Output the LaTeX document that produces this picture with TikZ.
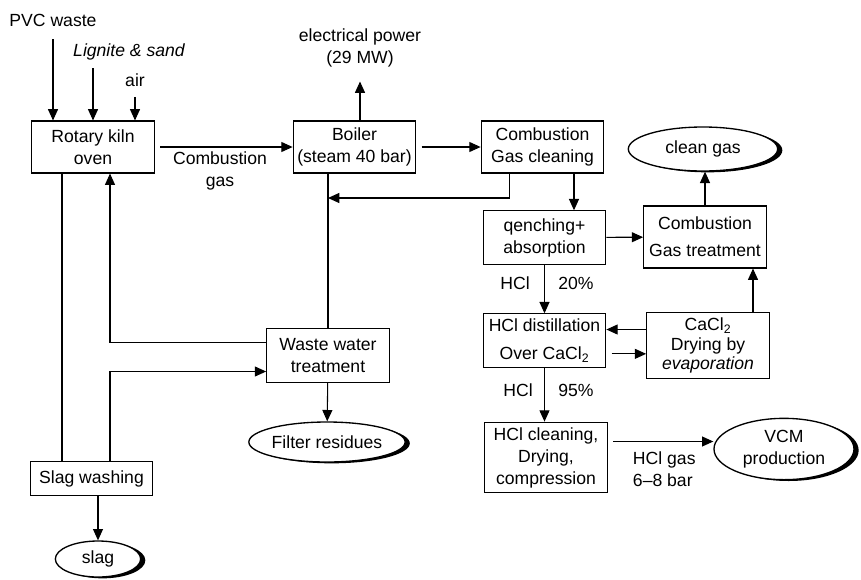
\documentclass[tikz,border=0pt]{standalone}
\usepackage{fontspec}
\setmainfont{Liberation Sans}
\usetikzlibrary{arrows.meta,shapes.geometric,shadows}

\begin{document}
\begin{tikzpicture}[x=0.75pt, y=-0.75pt, >={Triangle[length=8.5pt,width=7.5pt]}, line width=0.8pt,
  font=\fontsize{13.2}{16.5}\selectfont,
  box/.style={draw, align=center, minimum width=92pt, inner sep=1.5pt},
  blob/.style={ellipse, draw, fill=white, line width=1pt, inner sep=0pt, align=center,
    general shadow={fill=black, shadow xshift=3.5pt, shadow yshift=-1pt}}]
  \useasboundingbox (0,0) rectangle (861,579);
  % process boxes
  \node[box, minimum height=39pt] (kiln) at (93,147) {Rotary kiln\\oven};
  \node[box, minimum height=39pt] (boiler) at (354.5,147) {Boiler\\(steam 40 bar)};
  \node[box, minimum height=39pt] (gascl) at (542.5,147) {Combustion\\Gas cleaning};
  \node[box, minimum height=40pt] (quench) at (544.5,237.5) {qenching+\\absorption};
  \node[box, minimum height=46.5pt] (gastr) at (705,237) {Combustion\\[4pt]Gas treatment};
  \node[box, minimum height=40pt] (dist) at (544.5,340.5) {HCl distillation\\[4pt]Over CaCl\textsubscript{2}};
  \node[box, minimum height=49pt] (cacl) at (708,345.5) {CaCl\textsubscript{2}\\[-2pt]Drying by\\[-2pt]\textit{evaporation}};
  \node[box, minimum height=53pt] (hclcl) at (546,457.5) {HCl cleaning,\\Drying,\\compression};
  \node[box, minimum height=40pt] (waste) at (328,355.5) {Waste water\\treatment};
  \node[box, minimum height=26pt] (slagw) at (91.5,478.5) {Slag washing};
  % products
  \node[blob, minimum width=112pt, minimum height=33pt] (clean) at (703,149) {clean gas};
  \node[blob, minimum width=105pt, minimum height=46pt] (vcm) at (784,449) {VCM\\production};
  \node[blob, minimum width=112pt, minimum height=30pt] (filter) at (327,442) {Filter residues};
  \node[blob, minimum width=64pt, minimum height=27pt] (slag) at (98,559) {slag};
  % feeds and labels
  \node (pvc) at (53,20) {PVC waste};
  \node[font=\fontsize{13.2}{16.5}\selectfont\itshape] (lignite) at (129,52) {Lignite \& sand};
  \node (air) at (135,80) {air};
  \node[align=center] (power) at (360,48) {electrical power\\(29 MW)};
  \node[align=center] (cgas) at (220,171) {Combustion\\gas};
  \node (hcl1) at (515,283) {HCl};
  \node (pct1) at (576,283) {20\%};
  \node (hcl2) at (518,390) {HCl};
  \node (pct2) at (576,390) {95\%};
  \node[align=left, anchor=west] (hclgas) at (628,469) {HCl gas\\6--8 bar};
  \coordinate (ligin) at (93,68);
  \coordinate (laneA) at (62,0);
  \coordinate (laneB) at (110,0);
  \coordinate (laneC) at (574,0);
  \coordinate (laneD) at (753,0);
  \coordinate (join) at (328,198);
  % inputs
  \draw[->, shorten <=6pt] (pvc) -- (pvc |- kiln.north);
  \draw[->] (ligin) -- (ligin |- kiln.north);
  \draw[->, shorten <=4pt] (air) -- (air |- kiln.north);
  % gas path
  \draw[->, shorten <=4pt] (kiln) -- (boiler);
  \draw[->, shorten >=7pt] (boiler.north -| power) -- (power);
  \draw[->, shorten <=4pt] (boiler) -- (gascl);
  \draw (boiler.south -| waste) -- (waste.north);
  \draw[->] ([xshift=-25pt]gascl.south) |- (join);
  \draw[->] (gascl.south -| laneC) -- (quench.north -| laneC);
  \draw[->] (quench) -- (gastr);
  \draw[->] (gastr.north) -- (gastr.north |- clean.south);
  \draw[->] (cacl.north -| laneD) -- (gastr.south -| laneD);
  % acid path
  \draw[->] (quench) -- (dist);
  \draw[->] ([yshift=12pt]cacl.west) -- ([yshift=12pt]cacl.west -| dist.east);
  \draw[->, shorten <=4pt] ([yshift=-10pt]dist.east) -- ([yshift=-10pt]dist.east -| cacl.west);
  \draw[->] (dist.south) -- (dist.south |- hclcl.north);
  \draw[->, shorten <=4pt] ([yshift=12pt]hclcl.east) -- ([yshift=12pt]hclcl.east -| vcm.west);
  % water and slag
  \draw (kiln.south -| laneA) -- (slagw.north -| laneA);
  \draw[->] ([yshift=10pt]waste.west) -| (kiln.south -| laneB);
  \draw[->] (slagw.north -| laneB) |- ([yshift=-12pt]waste.west);
  \draw[->] (waste) -- (filter);
  \draw[->] (slagw.south -| slag) -- (slag);
\end{tikzpicture}
\end{document}
